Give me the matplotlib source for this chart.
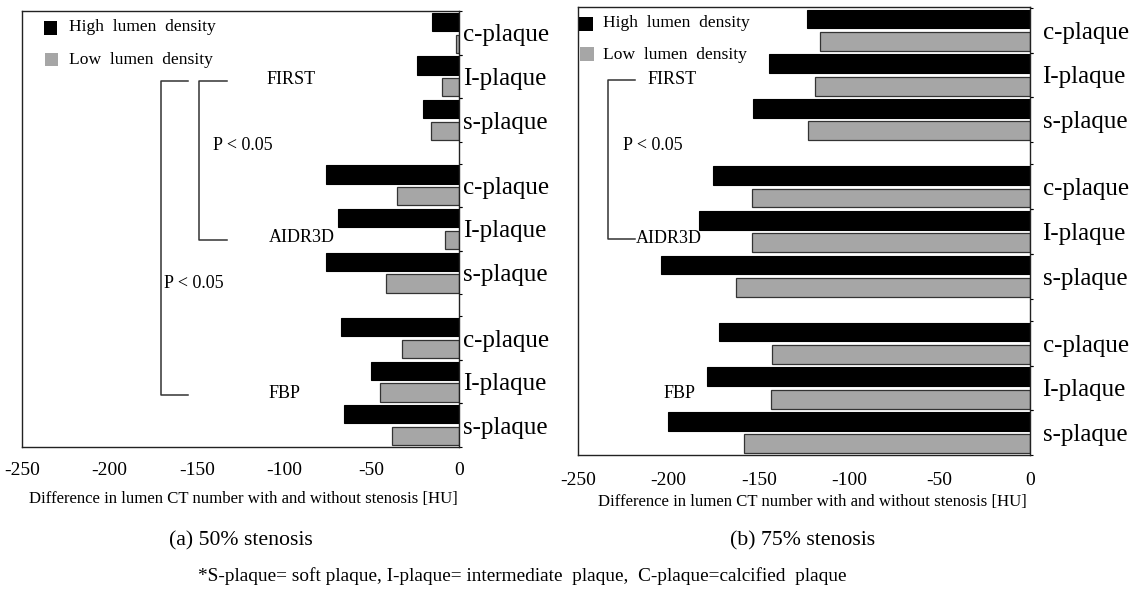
import matplotlib
matplotlib.use("Agg")
import matplotlib.pyplot as plt
from matplotlib.lines import Line2D
from matplotlib.patches import Rectangle

plt.rcParams['font.family'] = ['Liberation Serif', 'DejaVu Serif']
plt.rcParams['axes.unicode_minus'] = False

# ---------------- data ----------------
methods = ['FIRST', 'AIDR3D', 'FBP']
plaques = ['c-plaque', 'I-plaque', 's-plaque']
xticks = [-250, -200, -150, -100, -50, 0]

high_50 = [-15.5, -24, -20.5, -76, -69, -76, -67.5, -50.5, -66]
low_50 = [-1.5, -10, -16, -35.5, -8, -42, -32.5, -45, -38.5]
high_75 = [-123.5, -144.5, -153, -175.5, -183, -204, -172, -178.5, -200]
low_75 = [-116, -119, -123, -153.5, -153.5, -162.5, -142.5, -143, -158]

W, H = 1137, 591
fig = plt.figure(figsize=(W / 100, H / 100), dpi=100)


def fx(px):
    return px / W


def fy(py):
    return 1 - py / H


def ax_rect(x0, y0, x1, y1):
    return [fx(x0), fy(y1), fx(x1) - fx(x0), fy(y0) - fy(y1)]


BLACK = '#000000'
GRAY = '#a6a6a6'

# slot positions: each group = 3 pairs (high, low), 1 empty slot between groups
high_pos, low_pos, label_pos = [], [], []
for g in range(len(methods)):
    for i in range(len(plaques)):
        s = g * 7 + 2 * i
        high_pos.append(s)
        low_pos.append(s + 1)
        label_pos.append(s + 0.5)


def panel(rect, high, low, ylim, label_pad, tick_pad):
    ax = fig.add_axes(rect)
    ax.barh(high_pos, high, height=0.84, color=BLACK, edgecolor=BLACK, linewidth=0.8)
    ax.barh(low_pos, low, height=0.84, color=GRAY, edgecolor='#333333', linewidth=0.9)
    ax.set_xlim(-250, 0)
    ax.set_ylim(*ylim)
    ax.set_xticks(xticks)
    ax.set_xticklabels([str(v) for v in xticks], fontsize=14)
    ax.tick_params(axis='x', length=0, pad=tick_pad)
    ax.yaxis.tick_right()
    ax.set_yticks(label_pos)
    ax.set_yticklabels(plaques * len(methods), fontsize=18)
    ax.tick_params(axis='y', length=0, pad=label_pad)
    # small boundary ticks on the zero line
    bounds = [p - 0.5 for p in high_pos] + [p + 0.5 for p in low_pos]
    ax.set_yticks(bounds, minor=True)
    ax.tick_params(axis='y', which='minor', length=2.0, width=0.8, right=True, left=False)
    for sp in ax.spines.values():
        sp.set_linewidth(1.0)
        sp.set_color('#222222')
    return ax


axL = panel(ax_rect(22, 11, 459, 447), high_50, low_50, (19.48, -0.46), 3, 11)
axR = panel(ax_rect(578, 7, 1030, 455), high_75, low_75, (19.45, -0.54), 9, 12)


def ftext(x, y, s, size, ha='left'):
    fig.text(fx(x), fy(y), s, fontsize=size, ha=ha, va='center', color='black')


def fline(xs, ys):
    fig.add_artist(Line2D([fx(v) for v in xs], [fy(v) for v in ys],
                          transform=fig.transFigure, color='#333333', lw=1.1))


def fsquare(x0, y0, x1, y1, color):
    fig.add_artist(Rectangle((fx(x0), fy(y1)), fx(x1) - fx(x0), fy(y0) - fy(y1),
                             transform=fig.transFigure, facecolor=color, edgecolor='none'))


# legends
fsquare(44, 21, 57, 35, BLACK)
fsquare(45, 53, 58, 66, GRAY)
ftext(69, 27, 'High  lumen  density', 12.6)
ftext(69, 60, 'Low  lumen  density', 12.6)
fsquare(579, 17, 593, 31, BLACK)
fsquare(580, 47, 594, 61, GRAY)
ftext(603, 23, 'High  lumen  density', 12.6)
ftext(603, 55, 'Low  lumen  density', 12.6)

# left panel brackets
fline([227, 199, 199, 227], [81, 81, 240, 240])
fline([188, 161, 161, 188], [81, 81, 395, 395])
ftext(267, 79, 'FIRST', 13)
ftext(269, 238, 'AIDR3D', 13)
ftext(269, 394, 'FBP', 13)
ftext(213, 146, 'P < 0.05', 13)
ftext(164, 283, 'P < 0.05', 13)

# right panel bracket
fline([635, 607.5, 607.5, 635], [80, 80, 239, 239])
ftext(648, 80, 'FIRST', 13)
ftext(636, 239, 'AIDR3D', 13)
ftext(664, 393, 'FBP', 13)
ftext(623, 146, 'P < 0.05', 13)

# axis labels, captions
ftext(243, 499, 'Difference in lumen CT number with and without stenosis [HU]', 12.1, ha='center')
ftext(812, 502, 'Difference in lumen CT number with and without stenosis [HU]', 12.1, ha='center')
ftext(241, 541, '(a) 50% stenosis', 15.7, ha='center')
ftext(803, 541, '(b) 75% stenosis', 15.7, ha='center')
ftext(522, 576, '*S-plaque= soft plaque, I-plaque= intermediate  plaque,  C-plaque=calcified  plaque',
      13.85, ha='center')

fig.savefig('out.png', dpi=100, facecolor='white')
